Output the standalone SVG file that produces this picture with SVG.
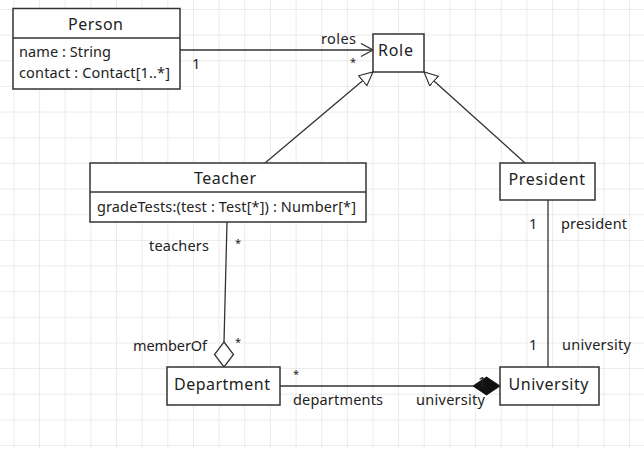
<svg xmlns="http://www.w3.org/2000/svg" width="644" height="454" viewBox="0 0 644 454">
  <defs>
    <pattern id="grid" patternUnits="userSpaceOnUse" x="13.4" y="9" width="25.65" height="25.65">
      <path d="M0,0.5 H25.65 M0.5,0 V25.65" fill="none" stroke="#ebebeb" stroke-width="1"/>
    </pattern>
    <marker id="gen" markerUnits="userSpaceOnUse" markerWidth="16" markerHeight="16" refX="14" refY="7" orient="auto">
      <path d="M0.5,0.5 L14,7 L0.5,13.5 Z" fill="#fff" stroke="#333" stroke-width="1.2"/>
    </marker>
    <marker id="open" markerUnits="userSpaceOnUse" markerWidth="16" markerHeight="16" refX="13" refY="7" orient="auto">
      <path d="M1,0.5 L13,7 L1,13.5" fill="none" stroke="#333" stroke-width="1.3"/>
    </marker>
  </defs>
  <style>
    .box { fill: #fff; stroke: #333; stroke-width: 1.5; }
    .div { stroke: #333; stroke-width: 1.3; }
    .edge { fill: none; stroke: #333; stroke-width: 1.3; }
    .name { font-family: "Noto Sans", "Open Sans", sans-serif; font-size: 16px; fill: #222; }
    .attr { font-family: "Noto Sans", "Open Sans", sans-serif; font-size: 14.5px; fill: #222; }
    .lbl { font-family: "Noto Sans", "Open Sans", sans-serif; font-size: 14.5px; fill: #222; }
    .mul { font-family: "Noto Sans", "Open Sans", sans-serif; font-size: 11px; fill: #222; }
  </style>

  <rect x="0" y="0" width="644" height="454" fill="#fff"/>
  <rect x="0" y="0" width="644" height="448" fill="url(#grid)"/>

  <!-- associations, generalizations and aggregations -->
  <g id="connectors">
    <line class="edge" x1="180" y1="50" x2="373" y2="50" marker-end="url(#open)"/>
    <line class="edge" x1="265" y1="163" x2="373" y2="72" marker-end="url(#gen)"/>
    <line class="edge" x1="525" y1="163" x2="424" y2="72" marker-end="url(#gen)"/>
    <line class="edge" x1="227" y1="222" x2="224" y2="342"/>
    <path d="M224,342 L233.5,354.5 L224,367 L214.5,354.5 Z" fill="#fff" stroke="#333" stroke-width="1.3"/>
    <line class="edge" x1="280" y1="386" x2="473" y2="386"/>
    <path d="M473,386 L486.5,377 L500,386 L486.5,395 Z" fill="#111" stroke="#111" stroke-width="1"/>
    <line class="edge" x1="548" y1="200" x2="548" y2="367"/>

    <text class="lbl" x="321" y="44" textLength="35" lengthAdjust="spacing">roles</text>
    <text class="lbl" x="192" y="69">1</text>
    <text class="mul" x="350" y="66">*</text>

    <text class="lbl" x="149" y="251" textLength="60" lengthAdjust="spacing">teachers</text>
    <text class="mul" x="235" y="247">*</text>
    <text class="lbl" x="133" y="351" textLength="74" lengthAdjust="spacing">memberOf</text>
    <text class="mul" x="235" y="346">*</text>

    <text class="mul" x="293" y="378">*</text>
    <text class="lbl" x="293" y="405" textLength="90" lengthAdjust="spacing">departments</text>
    <text class="lbl" x="416" y="405" textLength="69" lengthAdjust="spacing">university</text>
    <text class="lbl" x="478" y="387">1</text>

    <text class="lbl" x="529" y="229">1</text>
    <text class="lbl" x="561" y="229" textLength="66" lengthAdjust="spacing">president</text>
    <text class="lbl" x="529" y="350">1</text>
    <text class="lbl" x="562" y="350" textLength="69" lengthAdjust="spacing">university</text>
  </g>

  <g id="person">
    <rect class="box" x="13" y="8.5" width="167" height="80.5"/>
    <line class="div" x1="13" y1="38" x2="180" y2="38"/>
    <text class="name" x="68" y="30" textLength="55" lengthAdjust="spacing">Person</text>
    <text class="attr" x="19" y="57" textLength="92" lengthAdjust="spacing">name : String</text>
    <text class="attr" x="19" y="78" textLength="151" lengthAdjust="spacing">contact : Contact[1..*]</text>
  </g>

  <g id="role">
    <rect class="box" x="373" y="34" width="51" height="38"/>
    <text class="name" x="378" y="56" textLength="35" lengthAdjust="spacing">Role</text>
  </g>

  <g id="teacher">
    <rect class="box" x="90" y="163" width="276" height="59"/>
    <line class="div" x1="90" y1="192" x2="366" y2="192"/>
    <text class="name" x="194" y="184" textLength="62" lengthAdjust="spacing">Teacher</text>
    <text class="attr" x="97" y="212" textLength="259" lengthAdjust="spacing">gradeTests:(test : Test[*]) : Number[*]</text>
  </g>

  <g id="president">
    <rect class="box" x="500" y="163" width="95" height="37"/>
    <text class="name" x="508.5" y="184.5" textLength="76.5" lengthAdjust="spacing">President</text>
  </g>

  <g id="department">
    <rect class="box" x="167" y="367" width="113" height="38"/>
    <text class="name" x="174" y="390" textLength="96" lengthAdjust="spacing">Department</text>
  </g>

  <g id="university">
    <rect class="box" x="500" y="367" width="99" height="38"/>
    <text class="name" x="508.5" y="390" textLength="80" lengthAdjust="spacing">University</text>
  </g>
</svg>
